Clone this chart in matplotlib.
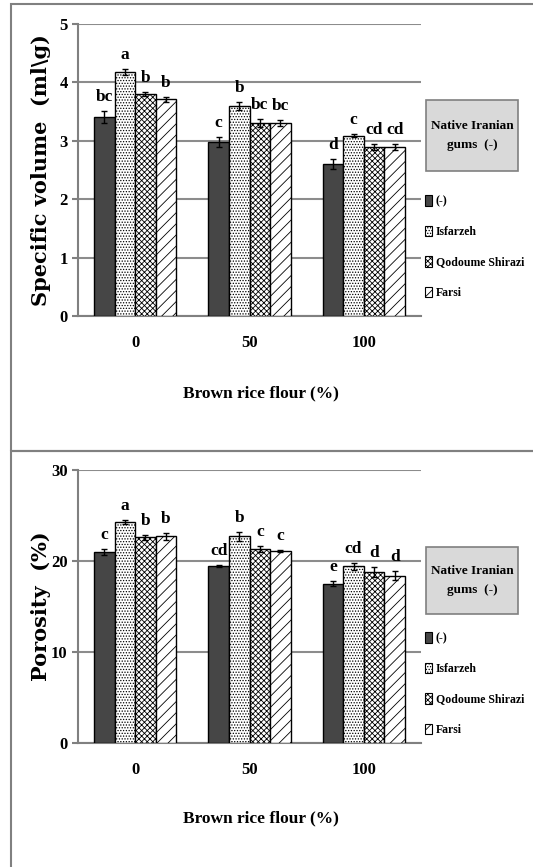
import numpy as np
import matplotlib.pyplot as plt
from matplotlib.patches import Rectangle

plt.rcParams['font.family'] = ['Liberation Serif', 'DejaVu Serif']
plt.rcParams['font.weight'] = 'bold'
plt.rcParams['hatch.linewidth'] = 0.6

flour = ['0', '50', '100']
gums = ['(-)', 'Isfarzeh', 'Qodoume Shirazi', 'Farsi']

# specific volume (ml\g)
vol = [[3.41, 2.98, 2.60],
       [4.18, 3.60, 3.09],
       [3.80, 3.31, 2.90],
       [3.71, 3.31, 2.90]]
vol_err = [[0.10, 0.09, 0.08],
           [0.05, 0.07, 0.02],
           [0.04, 0.07, 0.05],
           [0.04, 0.05, 0.05]]
vol_letters = [['bc', 'c', 'd'],
               ['a', 'b', 'c'],
               ['b', 'bc', 'cd'],
               ['b', 'bc', 'cd']]

# porosity (%)
por = [[21.0, 19.45, 17.5],
       [24.3, 22.7, 19.4],
       [22.6, 21.3, 18.75],
       [22.7, 21.1, 18.4]]
por_err = [[0.35, 0.10, 0.30],
           [0.25, 0.45, 0.40],
           [0.30, 0.35, 0.55],
           [0.35, 0.15, 0.45]]
por_letters = [['c', 'cd', 'e'],
               ['a', 'b', 'cd'],
               ['b', 'c', 'd'],
               ['b', 'c', 'd']]

styles = [dict(color='#464646', hatch=None),
          dict(color='white', hatch='......'),
          dict(color='white', hatch='xxxxxx'),
          dict(color='white', hatch='///')]

W, H = 533, 867
fig = plt.figure(figsize=(W / 100, H / 100), dpi=100)


def fx(px):
    return px / W


def fy(py):
    return 1 - py / H


# panel frames
for top, bot in [(4, 451), (451, 880)]:
    fig.patches.append(Rectangle((fx(11), fy(bot)), fx(560 - 11), fy(top) - fy(bot),
                                 transform=fig.transFigure, fill=False,
                                 edgecolor='#808080', lw=1.5))


def panel(ax_top, ax_bot, vals, errs, letters, ymax, step, ylabel,
          xlab_y, box_top, box_bot, leg_top):
    ax = fig.add_axes([fx(78), fy(ax_bot), fx(421 - 78), fy(ax_top) - fy(ax_bot)])
    x = np.arange(len(flour))
    w = 0.18
    handles = []
    for i, g in enumerate(gums):
        pos = x + (i - 1.5) * w
        b = ax.bar(pos, vals[i], w, yerr=errs[i], color=styles[i]['color'],
                   hatch=styles[i]['hatch'], edgecolor='black', lw=1.0,
                   error_kw=dict(ecolor='black', elinewidth=1, capsize=2.5, capthick=1),
                   zorder=3, label=g)
        handles.append(b)
        for p, v, e, t in zip(pos, vals[i], errs[i], letters[i]):
            ax.annotate(t, (p, v + e), xytext=(0, 10), textcoords='offset pixels',
                        ha='center', va='baseline', fontsize=12.5, fontweight='bold')
    ax.set_xlim(-0.5, 2.5)
    ax.set_ylim(0, ymax)
    ax.set_yticks(np.arange(0, ymax + 0.01, step))
    ax.set_xticks(x)
    ax.set_xticklabels(flour, fontsize=12)
    ax.tick_params(axis='y', labelsize=12, length=4, color='#808080', width=1.5)
    ax.tick_params(axis='x', length=0, pad=14)
    ax.yaxis.grid(True, color='#8c8c8c', lw=1.5, zorder=0)
    ax.set_axisbelow(True)
    for s in ['top', 'right']:
        ax.spines[s].set_visible(False)
    for s in ['left', 'bottom']:
        ax.spines[s].set_color('#808080')
        ax.spines[s].set_linewidth(1.5)
    ax.set_ylabel(ylabel, fontsize=15, fontweight='bold', family='DejaVu Serif')
    ax.yaxis.set_label_coords((51 - 78) / (421 - 78), 0.5)
    fig.text(fx(261), fy(xlab_y), 'Brown rice flour (%)', ha='center', va='center',
             fontsize=12.5, fontweight='bold')

    # legend title box
    fig.patches.append(Rectangle((fx(426), fy(box_bot)), fx(518 - 426), fy(box_top) - fy(box_bot),
                                 transform=fig.transFigure, facecolor='#d9d9d9',
                                 edgecolor='#808080', lw=1.2))
    fig.text(fx(472), fy((box_top + box_bot) / 2), 'Native Iranian\ngums  (-)',
             ha='center', va='center', fontsize=9.5, fontweight='bold', linespacing=1.8)
    leg = ax.legend(handles=handles, loc='upper left',
                    bbox_to_anchor=(fx(425), fy(leg_top)), bbox_transform=fig.transFigure,
                    frameon=False, fontsize=8.5, handlelength=0.6, handleheight=1.0,
                    handletextpad=0.3, labelspacing=1.55, borderpad=0, borderaxespad=0)
    for h in leg.legend_handles:
        h.set_linewidth(0.8)
    return ax


panel(24, 316, vol, vol_err, vol_letters, 5, 1, 'Specific volume  (ml\\g)',
      393, 100, 171, 195)
panel(470, 743, por, por_err, por_letters, 30, 10, 'Porosity  (%)',
      818, 547, 614, 632)

fig.savefig('out.png', dpi=100)
